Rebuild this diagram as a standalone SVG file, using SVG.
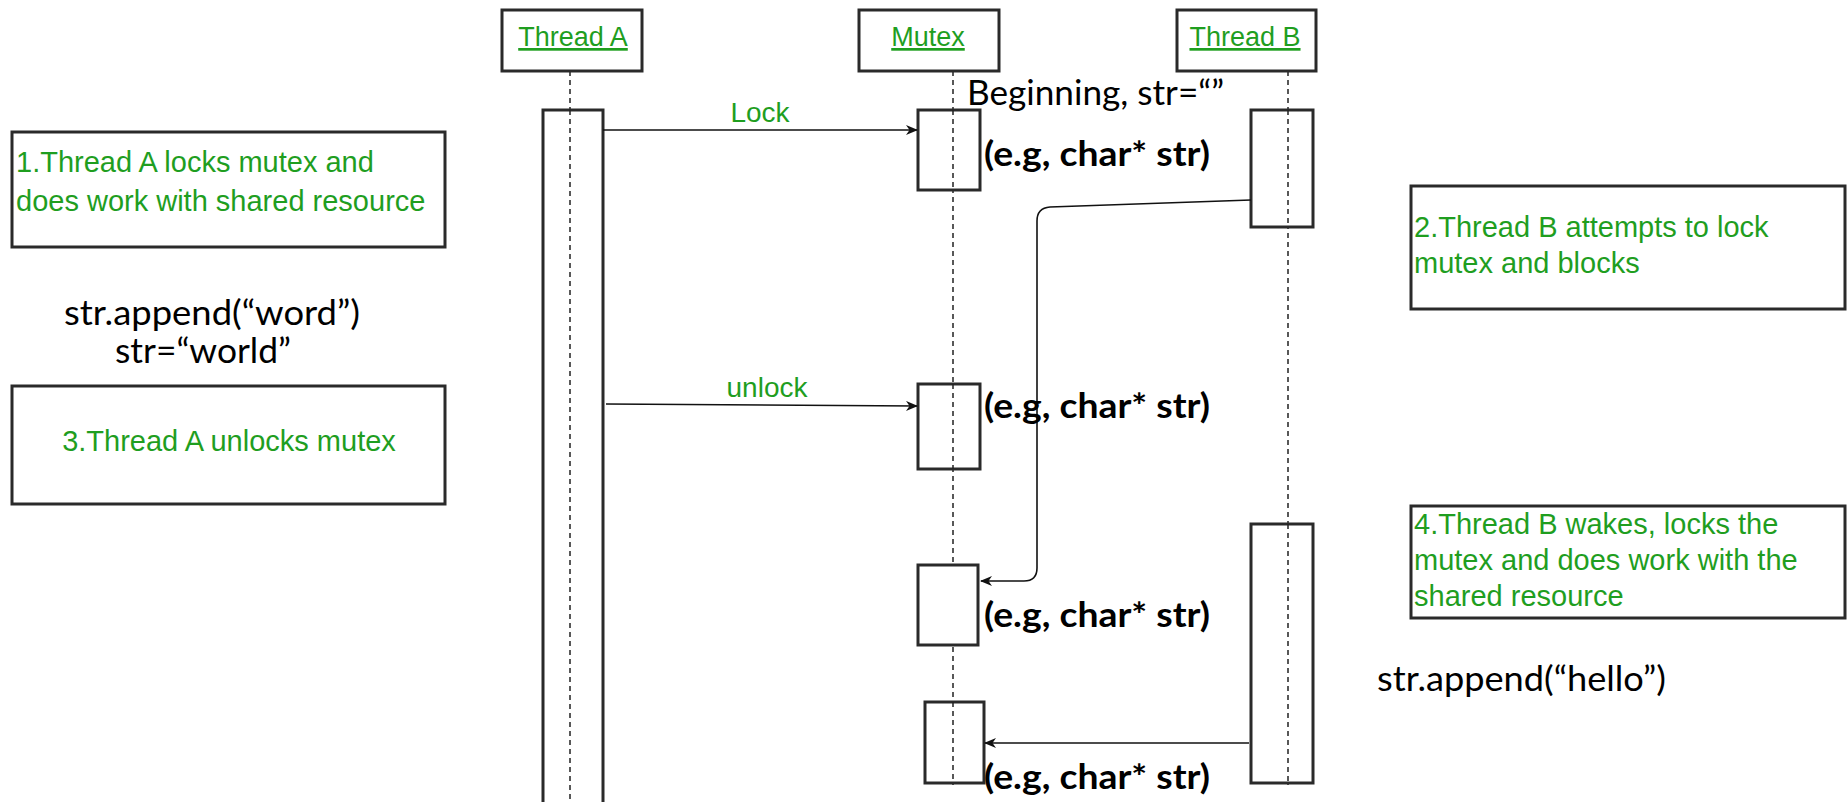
<svg xmlns="http://www.w3.org/2000/svg" width="1847" height="802" viewBox="0 0 1847 802">
  <style>
    .box { fill: #ffffff; stroke: #2a2a2a; stroke-width: 3; }
    .life { stroke: #222; stroke-width: 1.5; stroke-dasharray: 5 4; fill: none; }
    .msg { stroke: #111; stroke-width: 1.6; fill: none; }
    .head { font-family: "Liberation Sans", Arial, sans-serif; font-size: 27px; fill: #1f9e1f; text-anchor: middle; text-decoration: underline; }
    .note { font-family: "Liberation Sans", Arial, sans-serif; font-size: 29px; fill: #1f9e1f; }
    .lbl { font-family: "Liberation Sans", Arial, sans-serif; font-size: 28px; fill: #1f9e1f; text-anchor: middle; }
    .code { font-family: Lato, "Liberation Sans", sans-serif; font-size: 34px; fill: #000; }
    .ptr { font-family: Lato, "Liberation Sans", sans-serif; font-size: 34px; font-weight: bold; fill: #000; }
  </style>
  <defs>
    <marker id="arrow" viewBox="0 0 12 10" refX="11" refY="5" markerWidth="12" markerHeight="10" markerUnits="userSpaceOnUse" orient="auto">
      <path d="M0,0 L12,5 L0,10 L3.5,5 z" fill="#111"/>
    </marker>
  </defs>
  <rect width="1847" height="802" fill="#ffffff"/>

  <!-- lifelines -->
  <g id="lifelines">
    <line class="life" x1="570" y1="71" x2="570" y2="802"/>
    <line class="life" x1="953" y1="71" x2="953" y2="785"/>
    <line class="life" x1="1288" y1="71" x2="1288" y2="785"/>
  </g>

  <!-- participants -->
  <g id="thread-a">
    <rect class="box" x="502" y="10" width="140" height="61"/>
    <text class="head" x="573" y="46">Thread A</text>
    <rect class="box" x="543" y="110" width="60" height="700"/>
    <line class="life" x1="570" y1="110" x2="570" y2="802"/>
  </g>
  <g id="mutex">
    <rect class="box" x="859" y="10" width="140" height="61"/>
    <text class="head" x="928" y="46">Mutex</text>
  </g>
  <g id="thread-b">
    <rect class="box" x="1177" y="10" width="139" height="61"/>
    <text class="head" x="1245" y="46">Thread B</text>
  </g>

  <!-- activation bars -->
  <g id="mutex-act-1">
    <rect class="box" x="918" y="110" width="62" height="80"/>
    <line class="life" x1="953" y1="110" x2="953" y2="190"/>
  </g>
  <g id="mutex-act-2">
    <rect class="box" x="918" y="384" width="62" height="85"/>
    <line class="life" x1="953" y1="384" x2="953" y2="469"/>
  </g>
  <g id="mutex-act-3">
    <rect class="box" x="918" y="565" width="60" height="80"/>
  </g>
  <g id="mutex-act-4">
    <rect class="box" x="925" y="702" width="59" height="81"/>
    <line class="life" x1="953" y1="702" x2="953" y2="783"/>
  </g>
  <g id="thread-b-act-1">
    <rect class="box" x="1251" y="110" width="62" height="117"/>
    <line class="life" x1="1288" y1="110" x2="1288" y2="227"/>
  </g>
  <g id="thread-b-act-2">
    <rect class="box" x="1251" y="524" width="62" height="259"/>
    <line class="life" x1="1288" y1="524" x2="1288" y2="783"/>
  </g>

  <!-- messages -->
  <g id="connectors">
    <line class="msg" x1="603" y1="130" x2="917" y2="130" marker-end="url(#arrow)"/>
    <line class="msg" x1="606" y1="404" x2="917" y2="406" marker-end="url(#arrow)"/>
    <path class="msg" d="M1251,200 L1050,207 Q1037,208 1037,221 L1037,568 Q1037,581 1024,581 L981,581" marker-end="url(#arrow)"/>
    <line class="msg" x1="1249" y1="743" x2="985" y2="743" marker-end="url(#arrow)"/>
  </g>
  <g id="message-labels">
    <text class="lbl" x="760" y="122">Lock</text>
    <text class="lbl" x="767" y="397">unlock</text>
  </g>

  <!-- notes -->
  <g id="note-1">
    <rect class="box" x="12" y="132" width="433" height="115"/>
    <text class="note" x="16" y="172">1.Thread A locks mutex and</text>
    <text class="note" x="16" y="211">does work with shared resource</text>
  </g>
  <g id="note-3">
    <rect class="box" x="12" y="386" width="433" height="118"/>
    <text class="note" x="229" y="451" text-anchor="middle">3.Thread A unlocks mutex</text>
  </g>
  <g id="note-2">
    <rect class="box" x="1411" y="186" width="434" height="123"/>
    <text class="note" x="1414" y="237">2.Thread B attempts to lock</text>
    <text class="note" x="1414" y="273">mutex and blocks</text>
  </g>
  <g id="note-4">
    <rect class="box" x="1411" y="506" width="434" height="112"/>
    <text class="note" x="1414" y="534">4.Thread B wakes, locks the</text>
    <text class="note" x="1414" y="570">mutex and does work with the</text>
    <text class="note" x="1414" y="606">shared resource</text>
  </g>

  <!-- shared string state -->
  <g id="string-state">
    <text class="code" x="967" y="105" textLength="257" lengthAdjust="spacingAndGlyphs">Beginning, str=“”</text>
    <text class="ptr" x="984" y="166" textLength="226" lengthAdjust="spacingAndGlyphs">(e.g, char* str)</text>
    <text class="ptr" x="984" y="418" textLength="226" lengthAdjust="spacingAndGlyphs">(e.g, char* str)</text>
    <text class="ptr" x="984" y="627" textLength="226" lengthAdjust="spacingAndGlyphs">(e.g, char* str)</text>
    <text class="ptr" x="984" y="789" textLength="226" lengthAdjust="spacingAndGlyphs">(e.g, char* str)</text>
    <text class="code" x="64" y="325" font-size="31" textLength="296" lengthAdjust="spacingAndGlyphs">str.append(“word”)</text>
    <text class="code" x="115" y="363" font-size="31" textLength="176" lengthAdjust="spacingAndGlyphs">str=“world”</text>
    <text class="code" x="1377" y="691" textLength="289" lengthAdjust="spacingAndGlyphs">str.append(“hello”)</text>
  </g>
</svg>
